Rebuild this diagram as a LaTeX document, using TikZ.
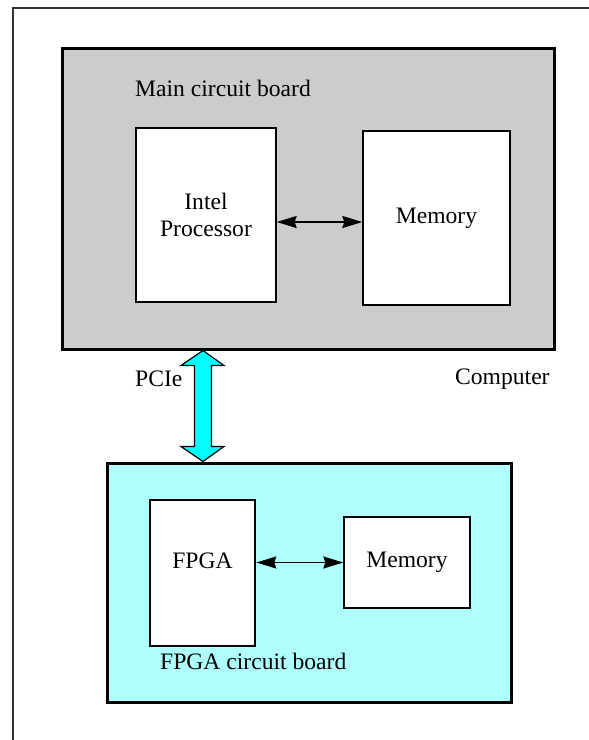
\documentclass[tikz,border=0pt]{standalone}
\usepackage{fontspec}
\setmainfont{Liberation Serif}
\usetikzlibrary{arrows.meta,calc}
\definecolor{boardgray}{HTML}{CCCCCC}
\definecolor{lightcyan}{HTML}{B0FFFF}
\definecolor{pciecyan}{HTML}{00FFFF}
\begin{document}
\begin{tikzpicture}[x=1pt,y=-1pt,
  every node/.style={font=\fontsize{23.6}{27}\selectfont},
  board/.style={draw=black,line width=3pt,inner sep=0pt},
  chip/.style={draw=black,fill=white,line width=1.3pt,inner sep=0pt,align=center},
  label/.style={anchor=west,inner sep=0pt},
  link/.style={line width=1.6pt,{Stealth[length=20pt,width=12pt,inset=2pt]}-{Stealth[length=20pt,width=12pt,inset=2pt]}}
]
\useasboundingbox (0,0) rectangle (589,740);
\fill[white] (0,0) rectangle (589,740);
% outer computer frame
\draw[line width=1.3pt,draw=black!80] (589,8) -- (13,8) -- (13,740);
% main board
\node[board,fill=boardgray,minimum width=492pt,minimum height=301pt] (main) at (308,198.5) {};
\node[label] (maintxt) at (135,88) {Main circuit board};
\node[chip,minimum width=140pt,minimum height=174pt] (intel) at (206,215) {Intel\\Processor};
\node[chip,minimum width=147pt,minimum height=174pt] (mem1) at (436.5,218) {Memory};
\draw[link] ([yshift=-7pt]intel.east) -- ([yshift=-7pt]intel.east -| mem1.west);
% fpga board
\node[board,fill=lightcyan,minimum width=404pt,minimum height=239pt] (fboard) at (309,582.5) {};
\node[label] (ftxt) at (160,661) {FPGA circuit board};
\node[chip,line width=2.6pt,minimum width=105pt,minimum height=146pt] (fpga) at (202.5,573) {};
\node (fpgatxt) at (202.5,561) {FPGA};
\node[chip,minimum width=126pt,minimum height=91pt] (mem2) at (407,562.5) {Memory};
\draw[link] (fpga.east |- mem2.west) -- (mem2.west);
% PCIe double arrow
\coordinate (pt) at (main.south -| 203,0);
\coordinate (pb) at (fboard.north -| 203,0);
\draw[fill=pciecyan,line width=1.2pt,line join=miter]
  (pt) -- ($(pt)+(-22,15)$) -- ($(pt)+(-8.5,15)$) -- ($(pb)+(-8.5,-15)$) -- ($(pb)+(-22,-15)$)
  -- (pb) -- ($(pb)+(21,-15)$) -- ($(pb)+(8.5,-15)$) -- ($(pt)+(8.5,15)$) -- ($(pt)+(21,15)$) -- cycle;
\node[label] (pcie) at (135,379) {PCIe};
\node[label] (comp) at (455,379) {Computer};
\end{tikzpicture}
\end{document}
